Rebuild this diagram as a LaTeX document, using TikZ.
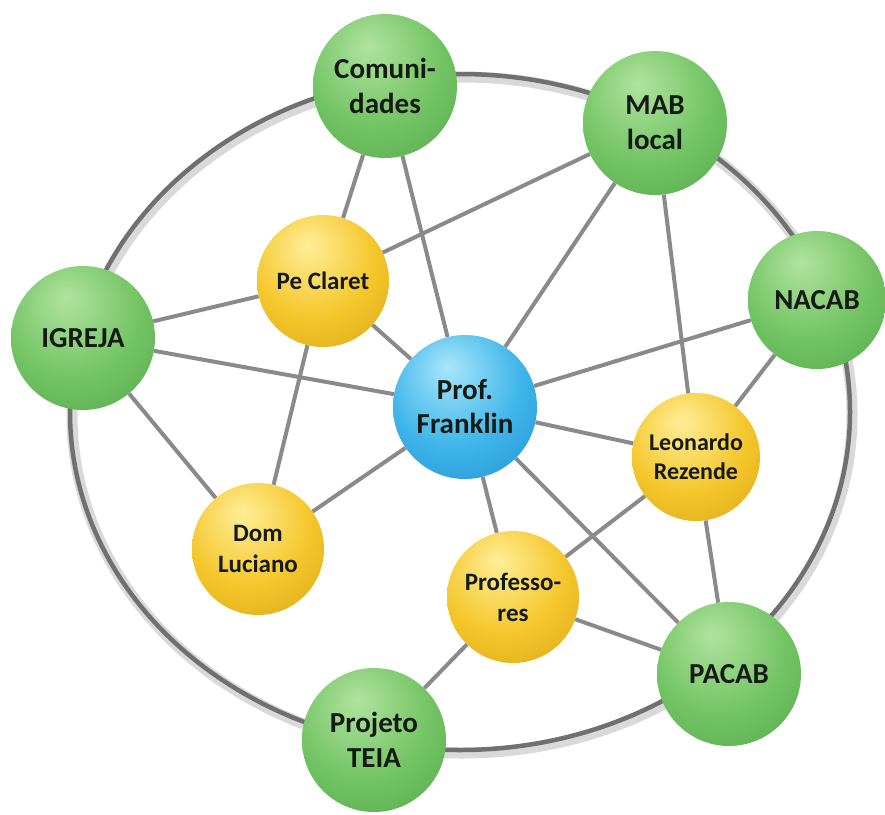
\documentclass[tikz,border=0pt]{standalone}
\usepackage{fontspec}
\setmainfont{Carlito}
\definecolor{gA}{HTML}{B0E39E}
\definecolor{gB}{HTML}{72C363}
\definecolor{gC}{HTML}{449A40}
\definecolor{yA}{HTML}{FFEE98}
\definecolor{yB}{HTML}{F4C62A}
\definecolor{yC}{HTML}{C99512}
\definecolor{bA}{HTML}{A8E6FA}
\definecolor{bB}{HTML}{3DB4EA}
\definecolor{bC}{HTML}{1A7FC0}
\definecolor{edgegray}{HTML}{8A8A8A}
\definecolor{ringgray}{HTML}{707070}
\definecolor{txt}{HTML}{151A15}
\pgfdeclareradialshading{gball}{\pgfpoint{-6bp}{14bp}}{color(0bp)=(gA); color(24bp)=(gB); color(55bp)=(gC); color(80bp)=(gC)}
\pgfdeclareradialshading{yball}{\pgfpoint{-6bp}{14bp}}{color(0bp)=(yA); color(24bp)=(yB); color(55bp)=(yC); color(80bp)=(yC)}
\pgfdeclareradialshading{bball}{\pgfpoint{-6bp}{14bp}}{color(0bp)=(bA); color(24bp)=(bB); color(55bp)=(bC); color(80bp)=(bC)}
\tikzset{
  ballnode/.style={circle, inner sep=0pt, align=center, text=txt, font=\bfseries},
  greenball/.style={ballnode, shading=gball, minimum size=144pt, font=\bfseries\fontsize{29}{35}\selectfont},
  yellowball/.style={ballnode, shading=yball, minimum size=132pt, font=\bfseries\fontsize{25}{31}\selectfont},
  blueball/.style={ballnode, shading=bball, minimum size=144pt, font=\bfseries\fontsize{29}{34}\selectfont},
  edge/.style={draw=edgegray, line width=4pt},
  ring/.style={draw=ringgray, line width=4.5pt},
  ringshadow/.style={draw=gray!30, line width=11pt}
}
\begin{document}
\begin{tikzpicture}[x=1pt,y=-1pt]
\useasboundingbox (0,0) rectangle (885,814);
% outer ring
\draw[ringshadow] (462,415) ellipse [x radius=390, y radius=338];
\draw[ring] (460,412) ellipse [x radius=390, y radius=338];
% nodes
\node[greenball] (com) at (385,86) {Comuni-\\dades};
\node[greenball] (mab) at (655,123) {MAB\\local};
\node[greenball, minimum size=138pt] (nac) at (817,300) {NACAB};
\node[greenball] (igr) at (83,338) {IGREJA};
\node[yellowball] (pec) at (323,281) {Pe Claret};
\node[blueball] (fra) at (465,407) {Prof.\\Franklin};
\node[yellowball, minimum size=128pt, font=\bfseries\fontsize{24}{29}\selectfont] (leo) at (696,457) {Leonardo\\Rezende};
\node[yellowball] (dom) at (258,549) {Dom\\Luciano};
\node[yellowball] (pro) at (513,597) {Professo-\\res};
\node[greenball] (pac) at (729,674) {PACAB};
\node[greenball] (tei) at (374,740) {Projeto\\TEIA};
% connectors
\draw[edge] (com) -- (pec);
\draw[edge] (com) -- (fra);
\draw[edge] (mab) -- (pec);
\draw[edge] (mab) -- (fra);
\draw[edge] (mab) -- (leo);
\draw[edge] (igr) -- (pec);
\draw[edge] (igr) -- (fra);
\draw[edge] (igr) -- (dom);
\draw[edge] (pec) -- (fra);
\draw[edge] (pec) -- (dom);
\draw[edge] (nac) -- (fra);
\draw[edge] (nac) -- (leo);
\draw[edge] (fra) -- (dom);
\draw[edge] (fra) -- (leo);
\draw[edge] (fra) -- (pro);
\draw[edge] (fra) -- (pac);
\draw[edge] (leo) -- (pro);
\draw[edge] (leo) -- (pac);
\draw[edge] (pro) -- (pac);
\draw[edge] (pro) -- (tei);
\end{tikzpicture}
\end{document}
